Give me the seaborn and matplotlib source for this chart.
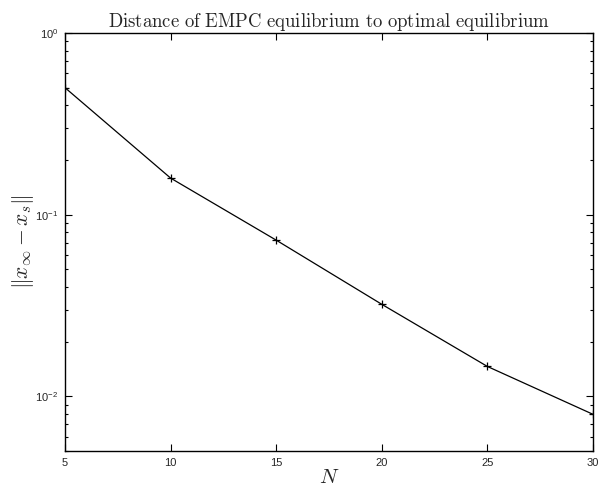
import numpy as np
import pandas as pd
import matplotlib
matplotlib.use("Agg")
import matplotlib.pyplot as plt
import seaborn as sns

# valores
N = [5, 10, 15, 20, 25, 30]
dist = [0.50, 0.159, 0.0724, 0.0321, 0.0146, 0.00796]

df = pd.DataFrame({"N": N, "dist": dist})

sns.set_theme(style="ticks")
plt.rcParams['font.family'] = ['Liberation Sans', 'DejaVu Sans']
plt.rcParams['mathtext.fontset'] = 'cm'

fig = plt.figure(figsize=(5.98, 4.95), dpi=100)
ax = fig.add_axes([0.1087, 0.0889, 0.8829, 0.8444])

sns.lineplot(data=df, x="N", y="dist", color="black", linewidth=0.9,
             marker="+", markersize=6, markeredgewidth=0.9,
             markeredgecolor="black", ax=ax)

ax.set_yscale("log")
ax.set_xlim(5, 30)
ax.set_ylim(5e-3, 1)
ax.set_xticks([5, 10, 15, 20, 25, 30])

ax.tick_params(which="both", direction="in", top=True, right=True,
               labelsize=8, width=0.8, color="black", pad=5)
ax.tick_params(which="major", length=5)
ax.tick_params(which="minor", length=2.5)
ax.minorticks_on()
ax.xaxis.set_minor_locator(matplotlib.ticker.NullLocator())
for s in ax.spines.values():
    s.set_linewidth(1.0)
    s.set_color("black")
    s.set_visible(True)

ax.set_title(r"$\mathrm{Distance\ of\ EMPC\ equilibrium\ to\ optimal\ equilibrium}$",
             fontsize=13.5, pad=4)
ax.set_xlabel(r"$N$", fontsize=15, labelpad=0)
ax.set_ylabel(r"$\|x_\infty - x_s\|$", fontsize=15.5, labelpad=-1)

plt.savefig("out.png", dpi=100)
